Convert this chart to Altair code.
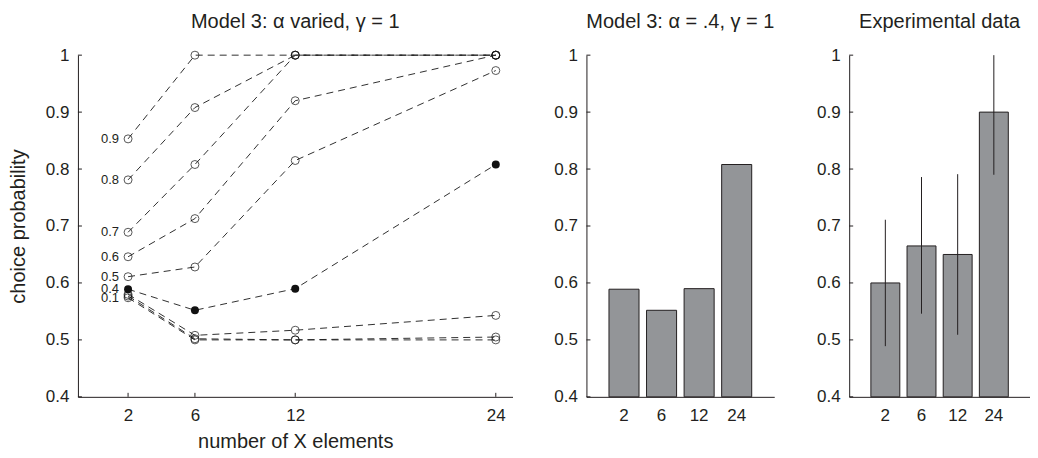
import altair as alt
import pandas as pd

# ---------------- data ----------------
alphas = [0.1, 0.2, 0.3, 0.4, 0.5, 0.6, 0.7, 0.8, 0.9]
set_sizes = [2, 6, 12, 24]
p_a01 = [0.574, 0.500, 0.500, 0.500]
p_a02 = [0.577, 0.502, 0.500, 0.505]
p_a03 = [0.580, 0.508, 0.517, 0.543]
p_a04 = [0.589, 0.552, 0.590, 0.808]
p_a05 = [0.611, 0.628, 0.815, 0.973]
p_a06 = [0.646, 0.713, 0.920, 1.000]
p_a07 = [0.689, 0.808, 1.000, 1.000]
p_a08 = [0.781, 0.908, 1.000, 1.000]
p_a09 = [0.853, 1.000, 1.000, 1.000]
highlight_alpha = 0.4
labelled_alphas = [0.1, 0.4, 0.5, 0.6, 0.7, 0.8, 0.9]

bar_categories = ["2", "6", "12", "24"]
model_values = [0.589, 0.552, 0.590, 0.808]
exp_means = [0.600, 0.665, 0.650, 0.900]
exp_lower = [0.489, 0.546, 0.509, 0.790]
exp_upper = [0.711, 0.786, 0.791, 1.000]

y_tick_values = [0.4, 0.5, 0.6, 0.7, 0.8, 0.9, 1.0]

titles = ["Model 3: \u03b1 varied, \u03b3 = 1", "Model 3: \u03b1 = .4, \u03b3 = 1", "Experimental data"]
y_title = "choice probability"
x_title = "number of X elements"

# ---------------- tables ----------------
series = [p_a01, p_a02, p_a03, p_a04, p_a05, p_a06, p_a07, p_a08, p_a09]
rows = []
for a, vals in zip(alphas, series):
    for n, v in zip(set_sizes, vals):
        rows.append({"alpha": a, "n": n, "p": v, "hl": a == highlight_alpha})
lines_df = pd.DataFrame(rows)
labels_df = pd.DataFrame(
    [{"alpha": a, "n": set_sizes[0], "p": vals[0]} for a, vals in zip(alphas, series) if a in labelled_alphas]
)
model_df = pd.DataFrame({"cat": bar_categories, "p": model_values})
exp_df = pd.DataFrame({"cat": bar_categories, "p": exp_means, "lo": exp_lower, "hi": exp_upper})
yt_df = pd.DataFrame({"p": y_tick_values})
xt_df = pd.DataFrame({"n": set_sizes})

# ---------------- style ----------------
FONT = "Liberation Sans"
INK = "#231f20"
BAR = "#939598"
H = 342
W1, W2, W3 = 435, 188, 181
TICK = 17

yscale = alt.Scale(domain=[0.4, 1.0], nice=False, zero=False)
label_expr = "datum.value == 1 ? '1' : format(datum.value, '.1f')"


def y_axis(title):
    kw = dict(values=y_tick_values, ticks=False, tickSize=0, labelPadding=9, labelExpr=label_expr,
              grid=False, domainColor=INK, labelColor=INK, labelFont=FONT, labelFontSize=TICK)
    if title:
        return alt.Axis(title=title, titleFont=FONT, titleFontSize=20, titleFontWeight="normal",
                        titleColor=INK, titlePadding=17, **kw)
    return alt.Axis(title=None, **kw)


def panel_title(t):
    return alt.TitleParams(text=t, font=FONT, fontSize=20, fontWeight="normal", color=INK,
                           anchor="middle", frame="group", baseline="alphabetic", offset=-2)


def y_ticks_layer():
    return alt.Chart(yt_df).mark_rule(color=INK, strokeWidth=1).encode(
        y=alt.Y("p:Q", scale=yscale), x=alt.value(0), x2=alt.value(4))


# ---------------- left panel ----------------
xscale = alt.Scale(domain=[-1, 25], nice=False, zero=False)
x_axis = alt.Axis(values=set_sizes, ticks=False, tickSize=0, labelPadding=11, grid=False,
                  domainColor=INK, labelColor=INK, labelFont=FONT, labelFontSize=TICK,
                  title=x_title, titleFont=FONT, titleFontSize=20, titleFontWeight="normal",
                  titleColor=INK, titlePadding=8, labelAngle=0)

base = alt.Chart(lines_df)
lines = base.mark_line(color="#1a1a1a", strokeWidth=0.9, strokeDash=[7, 5]).encode(
    x=alt.X("n:Q", scale=xscale, axis=x_axis),
    y=alt.Y("p:Q", scale=yscale, axis=y_axis(y_title)),
    detail="alpha:N",
    order="n:Q",
)
open_pts = base.transform_filter("!datum.hl").mark_point(
    shape="circle", filled=False, size=64, color="#111111", strokeWidth=1
).encode(x=alt.X("n:Q", scale=xscale), y=alt.Y("p:Q", scale=yscale))
full_pts = base.transform_filter("datum.hl").mark_point(
    shape="circle", filled=True, size=64, color="#111111", opacity=1
).encode(x=alt.X("n:Q", scale=xscale), y=alt.Y("p:Q", scale=yscale))
labels = alt.Chart(labels_df).mark_text(
    align="right", baseline="middle", dx=-9, font=FONT, fontSize=13, color=INK
).encode(x=alt.X("n:Q", scale=xscale), y=alt.Y("p:Q", scale=yscale),
         text=alt.Text("alpha:Q", format=".1f"))
x_ticks = alt.Chart(xt_df).mark_rule(color=INK, strokeWidth=1).encode(
    x=alt.X("n:Q", scale=xscale), y=alt.value(H), y2=alt.value(H - 4))

left = alt.layer(lines, open_pts, full_pts, labels, y_ticks_layer(), x_ticks).properties(
    width=W1, height=H, title=panel_title(titles[0]))

# ---------------- bar panels ----------------
band = alt.Scale(domain=bar_categories, paddingInner=0.2, paddingOuter=0.6)
bar_x_axis = alt.Axis(title=None, ticks=False, tickSize=0, labelPadding=11, labelAngle=0,
                      domainColor=INK, labelColor=INK, labelFont=FONT, labelFontSize=TICK)

mid_bars = alt.Chart(model_df).mark_bar(color=BAR, stroke=INK, strokeWidth=1).encode(
    x=alt.X("cat:N", scale=band, sort=bar_categories, axis=bar_x_axis),
    y=alt.Y("p:Q", scale=yscale, axis=y_axis(None)),
    y2=alt.datum(0.4),
)
mid = alt.layer(mid_bars, y_ticks_layer()).properties(
    width=W2, height=H, title=panel_title(titles[1]))

exp_bars = alt.Chart(exp_df).mark_bar(color=BAR, stroke=INK, strokeWidth=1).encode(
    x=alt.X("cat:N", scale=band, sort=bar_categories, axis=bar_x_axis),
    y=alt.Y("p:Q", scale=yscale, axis=y_axis(None)),
    y2=alt.datum(0.4),
)
err = alt.Chart(exp_df).mark_rule(color=INK, strokeWidth=1).encode(
    x=alt.X("cat:N", scale=band, sort=bar_categories),
    y=alt.Y("lo:Q", scale=yscale),
    y2="hi:Q",
)
right = alt.layer(exp_bars, err, y_ticks_layer()).properties(
    width=W3, height=H, title=panel_title(titles[2]))

chart = alt.hconcat(left, mid, right, spacing=41).properties(
    padding={"left": 0, "top": 4, "right": 0, "bottom": 0}, background="white"
).configure_view(stroke=None)

chart.save("out.html", embed_options={"renderer": "svg", "actions": False})
